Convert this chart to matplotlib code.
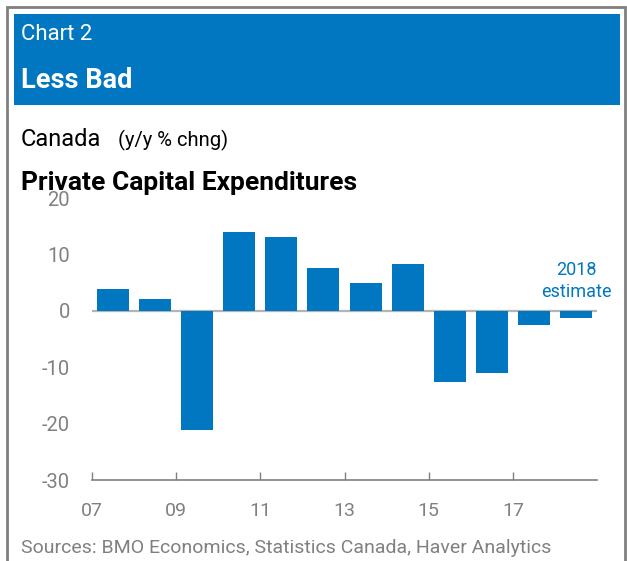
import matplotlib
matplotlib.use("Agg")
import matplotlib.pyplot as plt
from matplotlib.patches import Rectangle

# Annual y/y % change, private capital expenditures, Canada (2018 = estimate)
years = [2007, 2008, 2009, 2010, 2011, 2012, 2013, 2014, 2015, 2016, 2017, 2018]
capex_chg = [3.9, 2.1, -21.1, 14.0, 13.1, 7.6, 5.0, 8.3, -12.7, -11.1, -2.5, -1.2]
tick_labels = ["07", "09", "11", "13", "15", "17"]
y_ticks = [20, 10, 0, -10, -20, -30]

BLUE = "#0077C0"
GREY = "#808080"

plt.rcParams["font.family"] = ["Roboto", "DejaVu Sans"]

W, H = 627, 561
fig = plt.figure(figsize=(W / 100, H / 100), dpi=100)

def fx(px):
    return px / W

def fy(py):
    return 1 - py / H

# outer frame and blue title band
fig.add_artist(Rectangle((fx(7), fy(570)), fx(625) - fx(7), fy(7) - fy(570),
                         transform=fig.transFigure, fill=False, edgecolor=GREY, lw=2))
fig.add_artist(Rectangle((fx(14), fy(105)), fx(620) - fx(14), fy(14) - fy(105),
                         transform=fig.transFigure, facecolor=BLUE, edgecolor="none"))

fig.text(fx(21), fy(34), "Chart 2", color="white", fontsize=16,
         va="center", ha="left")
fig.text(fx(21), fy(80), "Less Bad", color="white", fontsize=19.5, fontweight="bold",
         va="center", ha="left")
fig.text(fx(21), fy(139), "Canada", color="black", fontsize=17, va="center", ha="left")
fig.text(fx(118), fy(140), "(y/y % chng)", color="black", fontsize=14.5, va="center", ha="left")
fig.text(fx(21), fy(183), "Private Capital Expenditures", color="black", fontsize=19,
         fontweight="bold", va="center", ha="left")
fig.text(fx(21), fy(548), "Sources: BMO Economics, Statistics Canada, Haver Analytics",
         color=GREY, fontsize=14, va="center", ha="left")

ax = fig.add_axes([fx(92), fy(480), fx(597) - fx(92), fy(198) - fy(480)])
pos = [i + 0.5 for i in range(len(years))]
ax.bar(pos, capex_chg, width=0.76, color=BLUE, zorder=2)
ax.axhline(0, color="#B4B4B4", lw=1.6, zorder=1)

ax.set_xlim(0, len(years))
ax.set_ylim(-30, 20)
ax.set_yticks(y_ticks)
ax.set_yticklabels([str(v) for v in y_ticks])
ax.set_xticks(range(0, len(years), 2))
ax.set_xticklabels(tick_labels)

for side in ["left", "right", "top"]:
    ax.spines[side].set_visible(False)
ax.spines["bottom"].set_color(GREY)
ax.spines["bottom"].set_linewidth(1.2)
ax.tick_params(axis="y", length=0, pad=16, labelsize=14.5, labelcolor=GREY)
ax.tick_params(axis="x", direction="in", length=6, width=1, color=GREY,
               pad=16, labelsize=14, labelcolor=GREY)

ax.text(pos[-1] + 0.0, 5.3, "2018\nestimate", color=BLUE, fontsize=13,
        ha="center", va="center", linespacing=1.3)

fig.savefig("out.png", dpi=100)
